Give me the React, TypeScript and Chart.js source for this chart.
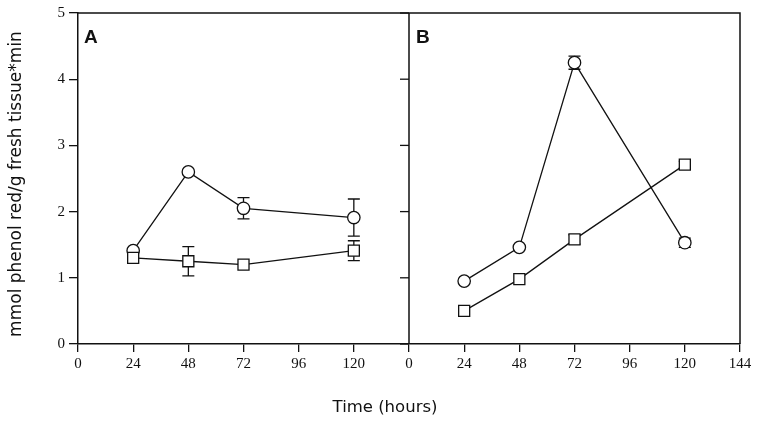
import React, { useEffect, useRef } from "react";
import { Chart, registerables } from "chart.js";

Chart.register(...registerables);

// Data
const hours = [24, 48, 72, 120];
const panelBOffset = 144; // panel B shares the x scale, shifted by 144 h
const xTickValues = [0, 24, 48, 72, 96, 120, 144];
const yTickValues = [0, 1, 2, 3, 4, 5];

const aCircle = [1.41, 2.6, 2.05, 1.91];
const aCircleErr = [0, 0, 0.16, 0.28];
const aSquare = [1.3, 1.25, 1.2, 1.41];
const aSquareErr = [0, 0.22, 0, 0.15];

const bCircle = [0.95, 1.46, 4.25, 1.53];
const bCircleErr = [0, 0, 0.1, 0.07];
const bSquare = [0.5, 0.98, 1.58, 2.71];
const bSquareErr = [0, 0, 0.07, 0.05];

const xTitle = "Time (hours)";
const yTitle = "mmol phenol red/g fresh tissue*min";

const INK = "#111";

const errorBarPlugin = {
  id: "errorBars",
  beforeDatasetsDraw(chart: any) {
    const ctx = chart.ctx;
    const yScale = chart.scales.y;
    ctx.save();
    ctx.strokeStyle = INK;
    ctx.lineWidth = 1.3;
    chart.data.datasets.forEach((ds: any, i: number) => {
      const meta = chart.getDatasetMeta(i);
      const errs: number[] = ds.errors || [];
      meta.data.forEach((pt: any, j: number) => {
        const e = errs[j];
        if (!e) return;
        const v = ds.data[j].y;
        const yHi = yScale.getPixelForValue(v + e);
        const yLo = yScale.getPixelForValue(v - e);
        const x = pt.x;
        const cap = 6;
        ctx.beginPath();
        ctx.moveTo(x, yHi);
        ctx.lineTo(x, yLo);
        ctx.moveTo(x - cap, yHi);
        ctx.lineTo(x + cap, yHi);
        ctx.moveTo(x - cap, yLo);
        ctx.lineTo(x + cap, yLo);
        ctx.stroke();
      });
    });
    ctx.restore();
  },
};

const framePlugin = {
  id: "frame",
  afterDraw(chart: any) {
    const ctx = chart.ctx;
    const { left, right, top, bottom } = chart.chartArea;
    const xScale = chart.scales.x;
    const yScale = chart.scales.y;
    const midX = xScale.getPixelForValue(panelBOffset);
    ctx.save();
    ctx.strokeStyle = INK;
    ctx.lineWidth = 1.5;
    ctx.beginPath();
    ctx.moveTo(left, top);
    ctx.lineTo(right, top);
    ctx.lineTo(right, bottom);
    ctx.moveTo(midX, top);
    ctx.lineTo(midX, bottom);
    ctx.stroke();
    // y ticks of panel B's axis
    ctx.lineWidth = 1.3;
    yTickValues.forEach((v) => {
      const y = yScale.getPixelForValue(v);
      ctx.beginPath();
      ctx.moveTo(midX - 9, y);
      ctx.lineTo(midX, y);
      ctx.stroke();
    });
    // panel letters
    ctx.fillStyle = INK;
    ctx.font = "bold 19px 'Liberation Sans', Arial, sans-serif";
    ctx.textBaseline = "top";
    ctx.textAlign = "left";
    ctx.fillText("A", left + 6, top + 15);
    ctx.fillText("B", midX + 7, top + 15);
    // axis titles
    ctx.font = "16.5px 'DejaVu Sans', sans-serif";
    ctx.textAlign = "center";
    ctx.textBaseline = "middle";
    ctx.fillText(xTitle, 385, 408);
    ctx.save();
    ctx.translate(17, 184);
    ctx.rotate(-Math.PI / 2);
    ctx.font = "17px 'DejaVu Sans', sans-serif";
    ctx.fillText(yTitle, 0, 0);
    ctx.restore();
    ctx.restore();
  },
};

const toPoints = (xs: number[], ys: number[], off: number) =>
  xs.map((x, i) => ({ x: x + off, y: ys[i] }));

export default function App() {
  const ref = useRef<HTMLCanvasElement | null>(null);

  useEffect(() => {
    if (!ref.current) return;
    const base = {
      borderColor: INK,
      backgroundColor: "#fff",
      borderWidth: 1.3,
      pointBorderWidth: 1.3,
      pointBackgroundColor: "#fff",
      pointBorderColor: INK,
      showLine: true,
      fill: false,
      tension: 0,
    };
    const circle = { pointStyle: "circle", pointRadius: 6.2 };
    const square = { pointStyle: "rect", pointRadius: 7.8 };
    const chart = new Chart(ref.current, {
      type: "scatter",
      data: {
        datasets: [
          { ...base, ...square, data: toPoints(hours, aSquare, 0), errors: aSquareErr } as any,
          { ...base, ...circle, data: toPoints(hours, aCircle, 0), errors: aCircleErr } as any,
          { ...base, ...square, data: toPoints(hours, bSquare, panelBOffset), errors: bSquareErr } as any,
          { ...base, ...circle, data: toPoints(hours, bCircle, panelBOffset), errors: bCircleErr } as any,
        ],
      },
      options: {
        animation: false,
        responsive: false,
        events: [],
        layout: { padding: { top: 12, right: 19, bottom: 0, left: 0 } },
        plugins: { legend: { display: false }, tooltip: { enabled: false } },
        scales: {
          x: {
            type: "linear",
            min: 0,
            max: panelBOffset * 2,
            afterBuildTicks: (s: any) => {
              const vals = [
                ...xTickValues,
                ...xTickValues.slice(1).map((v) => v + panelBOffset),
              ];
              s.ticks = vals.map((v) => ({ value: v }));
            },
            afterFit: (s: any) => {
              s.height = 78;
            },
            ticks: {
              color: INK,
              font: { family: "'Liberation Serif', 'Times New Roman', serif", size: 15 },
              padding: 3,
              maxRotation: 0,
              autoSkip: false,
              callback: (v: any) => {
                const n = Number(v);
                return String(n >= panelBOffset ? n - panelBOffset : n);
              },
            },
            grid: {
              display: true,
              drawOnChartArea: false,
              drawTicks: true,
              tickLength: 8,
              color: INK,
              lineWidth: 1.3,
            },
            border: { display: true, color: INK, width: 1.5 },
          },
          y: {
            type: "linear",
            min: 0,
            max: 5,
            afterBuildTicks: (s: any) => {
              s.ticks = yTickValues.map((v) => ({ value: v }));
            },
            afterFit: (s: any) => {
              s.width = 78;
            },
            ticks: {
              color: INK,
              font: { family: "'Liberation Serif', 'Times New Roman', serif", size: 15 },
              padding: 4,
            },
            grid: {
              display: true,
              drawOnChartArea: false,
              drawTicks: true,
              tickLength: 9,
              color: INK,
              lineWidth: 1.3,
            },
            border: { display: true, color: INK, width: 1.5 },
          },
        },
      },
      plugins: [errorBarPlugin, framePlugin],
    } as any);
    return () => chart.destroy();
  }, []);

  return (
    <div style={{ position: "fixed", left: 0, top: 0, width: 759, height: 422, background: "#fff" }}>
      <canvas ref={ref} width={759} height={422} style={{ width: 759, height: 422 }} />
    </div>
  );
}
